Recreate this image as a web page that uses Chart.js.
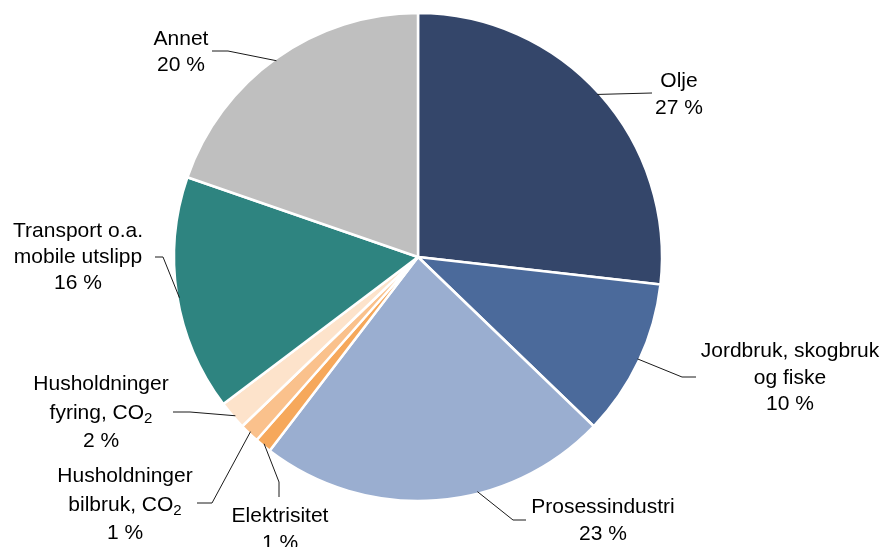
<!DOCTYPE html>
<html>
<head>
<meta charset="utf-8">
<script src="https://cdn.jsdelivr.net/npm/chart.js@4"></script>
<style>
  html, body { margin: 0; padding: 0; background: #fff; }
  #wrap { width: 885px; height: 547px; }
</style>
</head>
<body>
<div id="wrap"><canvas id="pieChart"></canvas></div>
<script>
// Data: shares of emissions (clockwise from 12 o'clock)
const categories = [
  ["Olje"],
  ["Jordbruk, skogbruk", "og fiske"],
  ["Prosessindustri"],
  ["Elektrisitet"],
  ["Husholdninger", "bilbruk, CO\u2082"],
  ["Husholdninger", "fyring, CO\u2082"],
  ["Transport o.a.", "mobile utslipp"],
  ["Annet"]
];
const shares = [26.8, 10.4, 23.2, 1.1, 1.3, 1.9, 15.6, 19.7];

const sliceColors = ["#34466A", "#4B6A9B", "#9AAED0", "#F6A85B", "#FAC18C", "#FDE3CB", "#2E8480", "#BFBFBF"];

// label placement: text centre x, first baseline y, line gap, leader edge angle (deg from top), elbow, line end
const labelLayout = [
  { x: 679, y: 87,  gap: 26.5, edge: 47.8,  elbow: [652, 93],  end: [652, 93] },
  { x: 790, y: 357, gap: 26.5, edge: 114.9, elbow: [682, 377], end: [696, 377] },
  { x: 603, y: 513, gap: 26.5, edge: 165.8, elbow: [513, 520], end: [526, 520] },
  { x: 280, y: 522, gap: 26.5, edge: 219.5, elbow: [279, 482], end: [279, 497] },
  { x: 125, y: 482, gap: 28.5, edge: 223.8, elbow: [212, 503], end: [197, 503] },
  { x: 101, y: 390, gap: 28.5, edge: 229,   elbow: [190, 412], end: [173, 412] },
  { x: 78,  y: 237, gap: 26,   edge: 260.3, elbow: [163, 257], end: [155, 257] },
  { x: 181, y: 45,  gap: 26,   edge: 324.2, elbow: [228, 51],  end: [212, 51] }
];

const mainFont = "21px 'Liberation Sans', Arial, sans-serif";
const subFont = "15px 'Liberation Sans', Arial, sans-serif";

// draws a line of text centred on x, rendering the unicode subscript two as a lowered small "2"
function drawLine(ctx, text, x, y) {
  const idx = text.indexOf("\u2082");
  if (idx < 0) {
    ctx.textAlign = "center";
    ctx.fillText(text, x, y);
    return;
  }
  const head = text.slice(0, idx);
  const tail = text.slice(idx + 1);
  ctx.font = mainFont;
  const wHead = ctx.measureText(head).width;
  const wTail = ctx.measureText(tail).width;
  ctx.font = subFont;
  const wSub = ctx.measureText("2").width;
  let left = x - (wHead + wSub + wTail) / 2;
  ctx.textAlign = "left";
  ctx.font = mainFont;
  ctx.fillText(head, left, y);
  ctx.font = subFont;
  ctx.fillText("2", left + wHead, y + 4);
  ctx.font = mainFont;
  ctx.fillText(tail, left + wHead + wSub, y);
  ctx.textAlign = "center";
}

const pieLabels = {
  id: "pieLabels",
  afterDraw(chart) {
    const ctx = chart.ctx;
    const arcs = chart.getDatasetMeta(0).data;
    ctx.save();
    ctx.font = mainFont;
    ctx.fillStyle = "#000";
    ctx.strokeStyle = "#1a1a1a";
    ctx.lineWidth = 1;
    ctx.textBaseline = "alphabetic";
    arcs.forEach((arc, i) => {
      const L = labelLayout[i];
      const a = L.edge * Math.PI / 180;
      const r = arc.outerRadius - 2;
      const ex = arc.x + r * Math.sin(a);
      const ey = arc.y - r * Math.cos(a);
      ctx.beginPath();
      ctx.moveTo(ex, ey);
      ctx.lineTo(L.elbow[0], L.elbow[1]);
      ctx.lineTo(L.end[0], L.end[1]);
      ctx.stroke();

      const lines = categories[i].concat([Math.round(shares[i]) + " %"]);
      lines.forEach((t, k) => {
        ctx.font = mainFont;
        drawLine(ctx, t, L.x, L.y + k * L.gap);
      });
    });
    ctx.restore();
  }
};

const ctx = document.getElementById("pieChart").getContext("2d");
new Chart(ctx, {
  type: "pie",
  data: {
    labels: categories,
    datasets: [{
      data: shares,
      backgroundColor: sliceColors,
      borderColor: "#fff",
      borderWidth: 2.5
    }]
  },
  options: {
    responsive: true,
    maintainAspectRatio: false,
    animation: false,
    radius: 244,
    layout: { padding: { left: 0, right: 49, top: 0, bottom: 33 } },
    plugins: {
      legend: { display: false },
      tooltip: { enabled: false }
    }
  },
  plugins: [pieLabels]
});
</script>
</body>
</html>
